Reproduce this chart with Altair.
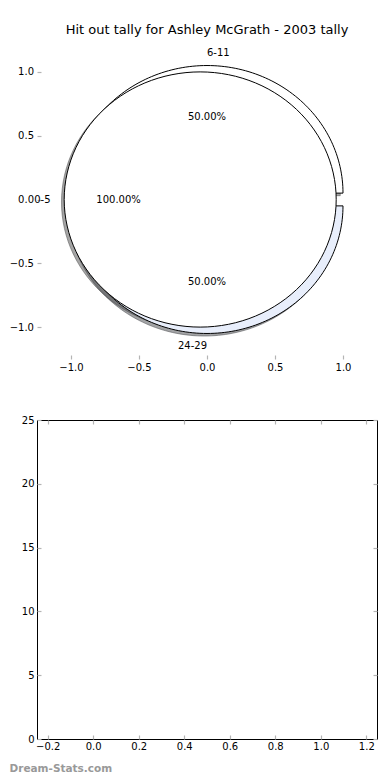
import altair as alt

# ---------------- data ----------------
title_text = "Hit out tally for Ashley McGrath - 2003 tally"
pie_a_labels = ["0-5"]
pie_a_values = [1]
pie_b_labels = ["6-11", "24-29"]
pie_b_values = [1, 1]
pie_ticks = [-1.0, -0.5, 0.0, 0.5, 1.0]

bar_x = []          # lower panel holds no bars
bar_y = []
bar_x_ticks = [-0.2, 0.0, 0.2, 0.4, 0.6, 0.8, 1.0, 1.2]
bar_y_ticks = [0, 5, 10, 15, 20, 25]
watermark_text = "Dream-Stats.com"

# ---------------- style ----------------
FONT = "DejaVu Sans"
TICK = "#b4b4b4"
W, H = 340, 319
EXPLODE = 0.05
N = 120
wedge_fill = {"0-5": "#ffffff", "6-11": "#ffffff", "24-29": "#e8eefb"}


def shade(hex_color, rho=0.3):
    h = hex_color.lstrip("#")
    r, g, b = (int(h[i:i + 2], 16) for i in (0, 2, 4))
    return "#%02x%02x%02x" % (int(r * rho), int(g * rho), int(b * rho))


fill_scale = alt.Scale(domain=list(wedge_fill), range=list(wedge_fill.values()))
shadow_scale = alt.Scale(domain=list(wedge_fill), range=[shade(c) for c in wedge_fill.values()])

rows = []
for i, (l, v) in enumerate(zip(pie_a_labels, pie_a_values)):
    rows.append({"pie": "A", "idx": i, "label": l, "value": v})
for i, (l, v) in enumerate(zip(pie_b_labels, pie_b_values)):
    rows.append({"pie": "B", "idx": i, "label": l, "value": v})

xs = alt.Scale(domain=[-1.25, 1.25], nice=False, zero=False)
ys = alt.Scale(domain=[-1.25, 1.25], nice=False, zero=False)


def axis(orient, values, fmt=None, labels=True, pad=3):
    kw = dict(orient=orient, values=values, offset=-4, tickSize=4, tickColor=TICK,
              tickWidth=1.2, domain=False, grid=False, title=None, labels=labels)
    if labels:
        kw.update(format=fmt, labelFont=FONT, labelFontSize=10, labelColor="black",
                  labelPadding=pad, labelFlush=False, labelOverlap=False)
    return alt.Axis(**kw)


def wedge_base():
    return (
        alt.Chart(alt.Data(values=rows))
        .transform_joinaggregate(total="sum(value)", groupby=["pie"])
        .transform_window(cum="sum(value)", groupby=["pie"], sort=[alt.SortField("idx")])
        .transform_calculate(
            a1="2*PI*(datum.cum-datum.value)/datum.total",
            a2="2*PI*datum.cum/datum.total",
            mid="(datum.a1+datum.a2)/2",
            full="datum.value>=datum.total",
            cx=f"{EXPLODE}*cos(datum.mid)",
            cy=f"{EXPLODE}*sin(datum.mid)",
        )
    )


def wedge_geom(dx=0.0, dy=0.0):
    return (
        wedge_base()
        .transform_calculate(k=f"sequence(0,{N + 2})")
        .transform_flatten(["k"])
        .transform_filter(f"datum.k<={N} || !datum.full")
        .transform_calculate(
            t=f"datum.a1+(datum.a2-datum.a1)*min(datum.k,{N})/{N}",
            px=f"(datum.k>{N} ? datum.cx : datum.cx+cos(datum.t))+({dx})",
            py=f"(datum.k>{N} ? datum.cy : datum.cy+sin(datum.t))+({dy})",
        )
    )


shadows = wedge_geom(-0.02, -0.02).mark_line(
    interpolate="linear-closed", fillOpacity=0.5, strokeOpacity=0.5, strokeWidth=1
).encode(
    x=alt.X("px:Q", scale=xs, axis=axis("bottom", pie_ticks, ".1f")),
    y=alt.Y("py:Q", scale=ys, axis=axis("left", pie_ticks, ".1f", pad=3.5)),
    order="k:Q",
    detail="label:N",
    fill=alt.Fill("label:N", scale=shadow_scale, legend=None),
    stroke=alt.Stroke("label:N", scale=shadow_scale, legend=None),
)


def wedge_layer(pie, ax_x=None, ax_y=None):
    return wedge_geom().transform_filter(f"datum.pie=='{pie}'").mark_line(
        interpolate="linear-closed", stroke="black", strokeWidth=1
    ).encode(
        x=alt.X("px:Q", scale=xs, axis=ax_x),
        y=alt.Y("py:Q", scale=ys, axis=ax_y),
        order="k:Q",
        detail="label:N",
        fill=alt.Fill("label:N", scale=fill_scale, legend=None),
    )


pie_b = wedge_layer("B")
pie_a = wedge_layer("A", axis("top", pie_ticks, labels=False), axis("right", pie_ticks, labels=False))
wedges = alt.layer(pie_b, pie_a)

labels_base = wedge_base().transform_calculate(
    lx="datum.cx+1.1*cos(datum.mid)",
    ly="datum.cy+1.1*sin(datum.mid)",
    qx="datum.cx+0.6*cos(datum.mid)",
    qy="datum.cy+0.6*sin(datum.mid)",
    pct="format(datum.value/datum.total,'.2%')",
)
txt = dict(font=FONT, fontSize=10, color="black", baseline="middle")
lab_left = labels_base.transform_filter("cos(datum.mid)>0").mark_text(align="left", **txt).encode(
    x=alt.X("lx:Q", scale=xs, axis=None), y=alt.Y("ly:Q", scale=ys, axis=None), text="label:N")
lab_right = labels_base.transform_filter("cos(datum.mid)<=0").mark_text(align="right", **txt).encode(
    x=alt.X("lx:Q", scale=xs, axis=None), y=alt.Y("ly:Q", scale=ys, axis=None), text="label:N")
lab_pct = labels_base.mark_text(align="center", **txt).encode(
    x=alt.X("qx:Q", scale=xs, axis=None), y=alt.Y("qy:Q", scale=ys, axis=None), text="pct:N")

top = alt.layer(shadows, wedges, lab_left, lab_right, lab_pct).resolve_axis(
    x="independent", y="independent"
).resolve_scale(fill="independent", stroke="independent").properties(
    width=W, height=H,
    title=alt.TitleParams(text=title_text, font=FONT, fontSize=13, fontWeight="normal",
                          color="black", anchor="middle", offset=-7, baseline="alphabetic"),
)

# ---------------- lower (empty) panel ----------------
bar_rows = [{"x": x, "y": y} for x, y in zip(bar_x, bar_y)]
bxs = alt.Scale(domain=[-0.225, 1.225], nice=False, zero=False)
bys = alt.Scale(domain=[0, 25], nice=False, zero=False)

bars = alt.Chart(alt.Data(values=bar_rows)).mark_bar(color="#4c72b0").encode(
    x=alt.X("x:Q", scale=bxs, axis=axis("bottom", bar_x_ticks, ".1f", pad=2)),
    y=alt.Y("y:Q", scale=bys, axis=axis("left", bar_y_ticks, "d")),
)
bars2 = alt.Chart(alt.Data(values=bar_rows)).mark_bar(color="#4c72b0").encode(
    x=alt.X("x:Q", scale=bxs, axis=axis("top", bar_x_ticks, labels=False)),
    y=alt.Y("y:Q", scale=bys, axis=axis("right", bar_y_ticks, labels=False)),
)
mark_wm = alt.Chart(alt.Data(values=[{"t": watermark_text}])).mark_text(
    align="left", baseline="middle", font=FONT, fontSize=10.5, fontWeight="bold", color="#999999"
).encode(x=alt.value(-27.5), y=alt.value(H + 30), text="t:N")

bottom = alt.layer(bars, bars2, mark_wm).resolve_axis(
    x="independent", y="independent"
).properties(width=W, height=H, view=alt.ViewBackground(stroke="black", strokeWidth=1))

chart = alt.vconcat(top, bottom, spacing=41).properties(
    padding={"left": 0, "top": 15, "right": 0, "bottom": 0},
    background="white",
).configure_view(stroke="transparent")

chart.save("out.html", embed_options={"renderer": "svg", "actions": False})
